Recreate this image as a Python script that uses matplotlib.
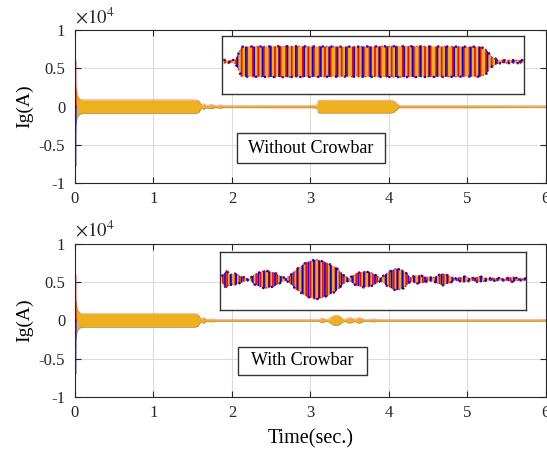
import numpy as np
import matplotlib
matplotlib.use("Agg")
import matplotlib.pyplot as plt
from matplotlib.patches import Rectangle

plt.rcParams['font.family'] = ['Liberation Serif', 'DejaVu Serif']
plt.rcParams['mathtext.fontset'] = 'stix'
plt.rcParams['hatch.linewidth'] = 1.2

ORANGE = '#EDB120'

# ---- main traces (current envelope, x1e4 A) ----
# without crowbar
t_top = [0.0, 0.01, 0.03, 0.06, 0.1, 0.5, 1.0, 1.5, 1.55, 1.58, 1.60, 1.62, 1.64, 1.66, 1.70, 1.74, 1.78, 1.82, 1.85, 1.89,
         2.0, 2.5, 3.0, 3.08, 3.10, 3.5, 4.0, 4.04, 4.07, 4.10, 4.13, 5.0, 6.0]
amp_top = [0.30, 0.25, 0.14, 0.10, 0.09, 0.09, 0.09, 0.09, 0.088, 0.075, 0.04, 0.02, 0.04, 0.02, 0.02, 0.03, 0.015, 0.015, 0.025, 0.015,
           0.013, 0.015, 0.015, 0.02, 0.085, 0.085, 0.085, 0.082, 0.07, 0.04, 0.015, 0.015, 0.012]
# with crowbar
t_bot = [0.0, 0.01, 0.03, 0.06, 0.1, 0.5, 1.0, 1.5, 1.54, 1.57, 1.59, 1.61, 1.64, 1.67, 1.70, 1.76, 1.80, 2.0, 3.0, 3.10,
         3.13, 3.15, 3.17, 3.20, 3.23, 3.26, 3.30, 3.34, 3.38, 3.41, 3.44, 3.47, 3.50, 3.53, 3.56, 3.59, 3.62, 3.65,
         3.68, 3.72, 3.78, 3.80, 3.82, 3.86, 4.0, 5.0, 6.0]
amp_bot = [0.30, 0.25, 0.14, 0.10, 0.09, 0.09, 0.09, 0.09, 0.088, 0.075, 0.04, 0.02, 0.04, 0.015, 0.015, 0.02, 0.012, 0.012, 0.012, 0.012,
           0.025, 0.03, 0.025, 0.012, 0.02, 0.045, 0.065, 0.068, 0.05, 0.02, 0.015, 0.03, 0.037, 0.03, 0.015, 0.03, 0.038, 0.028,
           0.012, 0.012, 0.018, 0.02, 0.018, 0.012, 0.012, 0.012, 0.012]

# initial transient spike per phase (x1e4 A)
spike_t = [0.0, 0.005, 0.01]
red_spike = [0.0, 0.60, 0.0]
blue_spike_top = [0.0, -0.78, 0.0]
blue_spike_bot = [0.0, -0.70, 0.0]

# ---- zoomed insets (position across inset, envelope in px units) ----
ins_top_x = [0.0, 0.02, 0.04, 0.05, 0.06, 0.2, 0.4, 0.6, 0.8, 0.856, 0.876, 0.889, 0.906, 0.922, 1.0]
ins_top_amp = [2, 1, 2, 8, 15, 15.5, 15, 15.5, 15, 15, 12, 6, 3, 1.5, 1.5]

ins_bot_px = [0, 5, 8, 13, 20, 28, 33, 43, 53, 60, 65, 70, 75, 85, 95, 105, 115, 123, 128, 135, 143, 150, 160, 167,
              175, 183, 190, 195, 200, 207, 213, 222, 228, 235, 245, 250, 260, 267, 277, 285, 293, 298, 303, 306]
ins_bot_amp = [3, 9, 5, 6, 3, 0.5, 5, 9, 7, 3, 1, 5, 10, 17, 20, 17, 12, 4, 1, 6, 8, 7, 1.5, 7,
               11, 9, 2, 4, 4, 2, 2, 6, 4, 1, 3, 1, 3, 1, 1.5, 1, 2.5, 1, 1, 1]

fig = plt.figure(figsize=(5.47, 4.51), dpi=100)
ax1 = fig.add_axes([0.137, 0.594, 0.861, 0.339])
ax2 = fig.add_axes([0.137, 0.120, 0.861, 0.339])


def draw_main(ax, t, amp, blue_spike, label, box, inset_rect):
    a = np.array(amp)
    ax.fill_between(t, -a, a, color=ORANGE, lw=0)
    ax.plot(t, a, color='red', lw=0.4, alpha=0.5)
    ax.plot(t, -a, color='#6a5acd', lw=0.4, alpha=0.5)
    ax.plot(spike_t, red_spike, color='red', lw=1.2)
    ax.plot(spike_t, blue_spike, color='blue', lw=1.2)
    ax.plot([0.005, 0.005], [-0.22, 0.25], color=ORANGE, lw=1.2)
    ax.set_xlim(0, 6)
    ax.set_ylim(-1, 1)
    ax.set_xticks(range(7))
    ax.set_yticks([-1, -0.5, 0, 0.5, 1])
    ax.set_yticklabels(['-1', '-0.5', '0', '0.5', '1'])
    ax.tick_params(direction='in', top=True, right=True, labelsize=12, length=4, colors='#262626')
    ax.tick_params(axis='x', pad=6)
    ax.tick_params(axis='y', pad=7)
    for s in ax.spines.values():
        s.set_color('#262626')
        s.set_linewidth(0.8)
    ax.grid(True, color='#dcdcdc', lw=0.8)
    ax.set_axisbelow(True)
    ax.set_ylabel('Ig(A)', fontsize=14, labelpad=4)
    ax.text(0.0, 1.02, r'$\times10^{4}$', transform=ax.transAxes, fontsize=13.5, color='#262626',
            ha='left', va='bottom')
    x0, y0, x1, y1 = box
    ax.add_patch(Rectangle((x0, y0), x1 - x0, y1 - y0, transform=ax.transAxes, fc='white',
                           ec='#333333', lw=1.0, zorder=5))
    ax.text((x0 + x1) / 2, (y0 + y1) / 2, label, transform=ax.transAxes, fontsize=13,
            ha='center', va='center', zorder=6)
    ins = ax.inset_axes(inset_rect)
    ins.set_xticks([])
    ins.set_yticks([])
    for s in ins.spines.values():
        s.set_color('#333333')
        s.set_linewidth(1.0)
    return ins


ins1 = draw_main(ax1, t_top, amp_top, blue_spike_top, 'Without Crowbar', (0.344, 0.131, 0.658, 0.327),
                 [0.312, 0.582, 0.641, 0.379])
ins2 = draw_main(ax2, t_bot, amp_bot, blue_spike_bot, 'With Crowbar', (0.346, 0.144, 0.620, 0.327),
                 [0.308, 0.569, 0.6497, 0.379])
ax2.set_xlabel('Time(sec.)', fontsize=14.5, labelpad=6)


def draw_inset(ins, x, amp, ylim, hatch_r, hatch_b):
    a = np.array(amp)
    ins.fill_between(x, -a, a, facecolor=ORANGE, edgecolor='red', hatch=hatch_r, lw=0)
    ins.fill_between(x, -a, a, facecolor='none', edgecolor='blue', hatch=hatch_b, lw=0)
    ins.plot(x, a, color='blue', lw=1.6, ls=(0, (1, 3)))
    ins.plot(x, -a, color='blue', lw=1.6, ls=(2, (1, 3)))
    ins.plot(x, a, color='red', lw=1.0, ls=(0, (1, 4)), alpha=0.8)
    ins.plot(x, -a, color='red', lw=1.0, ls=(2, (1, 4)), alpha=0.8)
    ins.set_xlim(x[0] - 0.005 * (x[-1] - x[0]), x[-1])
    ins.set_ylim(*ylim)


draw_inset(ins1, ins_top_x, ins_top_amp, (-32.5, 25.5), '|||', '||')
draw_inset(ins2, ins_bot_px, ins_bot_amp, (-30.5, 27.5), '||||', '|||')

fig.savefig('out.png', dpi=100)
